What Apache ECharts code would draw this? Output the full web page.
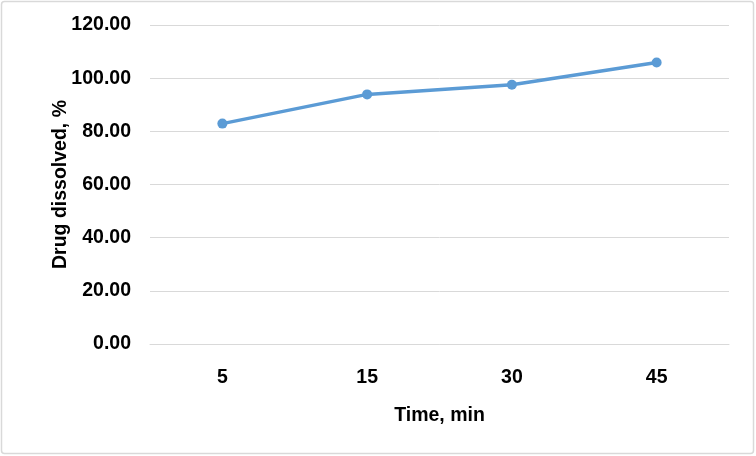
<!DOCTYPE html>
<html><head><meta charset="utf-8">
<script src="https://cdn.jsdelivr.net/npm/echarts@6/dist/echarts.min.js"></script>
<style>html,body{margin:0;padding:0;background:#fff}#c{width:756px;height:456px}</style>
</head><body><div id="c"></div>
<script>
const categories = ['5', '15', '30', '45'];
const values = [82.9, 93.9, 97.5, 105.9];
const yTicks = [0, 20, 40, 60, 80, 100, 120];

const chart = echarts.init(document.getElementById('c'));
const font = 'Liberation Sans, Arial, sans-serif';
chart.setOption({
  animation: false,
  graphic: [{type:'rect', shape:{x:1.5,y:1.5,width:752,height:452,r:3}, style:{fill:'none',stroke:'#d9d9d9',lineWidth:1.5}}],
  grid: {left: 150, right: 27, top: 25, bottom: 112},
  xAxis: {
    type: 'category', data: categories, boundaryGap: true,
    axisLine: {show: true, lineStyle: {color: '#d9d9d9'}},
    axisTick: {show: false},
    axisLabel: {margin: 24, fontFamily: font, fontWeight: 'bold', fontSize: 19.5, color: '#000'},
    name: 'Time, min', nameLocation: 'middle', nameGap: 62, nameMoveOverlap: false,
    nameTextStyle: {fontFamily: font, fontWeight: 'bold', fontSize: 19.5, color: '#000'}
  },
  yAxis: {
    type: 'value', min: yTicks[0], max: yTicks[yTicks.length-1], interval: 20,
    axisLine: {show: false}, axisTick: {show: false},
    splitLine: {lineStyle: {color: '#d9d9d9'}},
    axisLabel: {margin: 19, fontFamily: font, fontWeight: 'bold', fontSize: 19.5, color: '#000',
      formatter: v => v.toFixed(2)},
    name: 'Drug dissolved, %', nameLocation: 'middle', nameGap: 79, nameRotate: 90, nameMoveOverlap: false,
    nameTextStyle: {fontFamily: font, fontWeight: 'bold', fontSize: 19.5, color: '#000'}
  },
  series: [{
    type: 'line', data: values, symbol: 'circle', symbolSize: 10,
    lineStyle: {color: '#5b9bd5', width: 3.5}, itemStyle: {color: '#5b9bd5'}
  }]
});
</script></body></html>
